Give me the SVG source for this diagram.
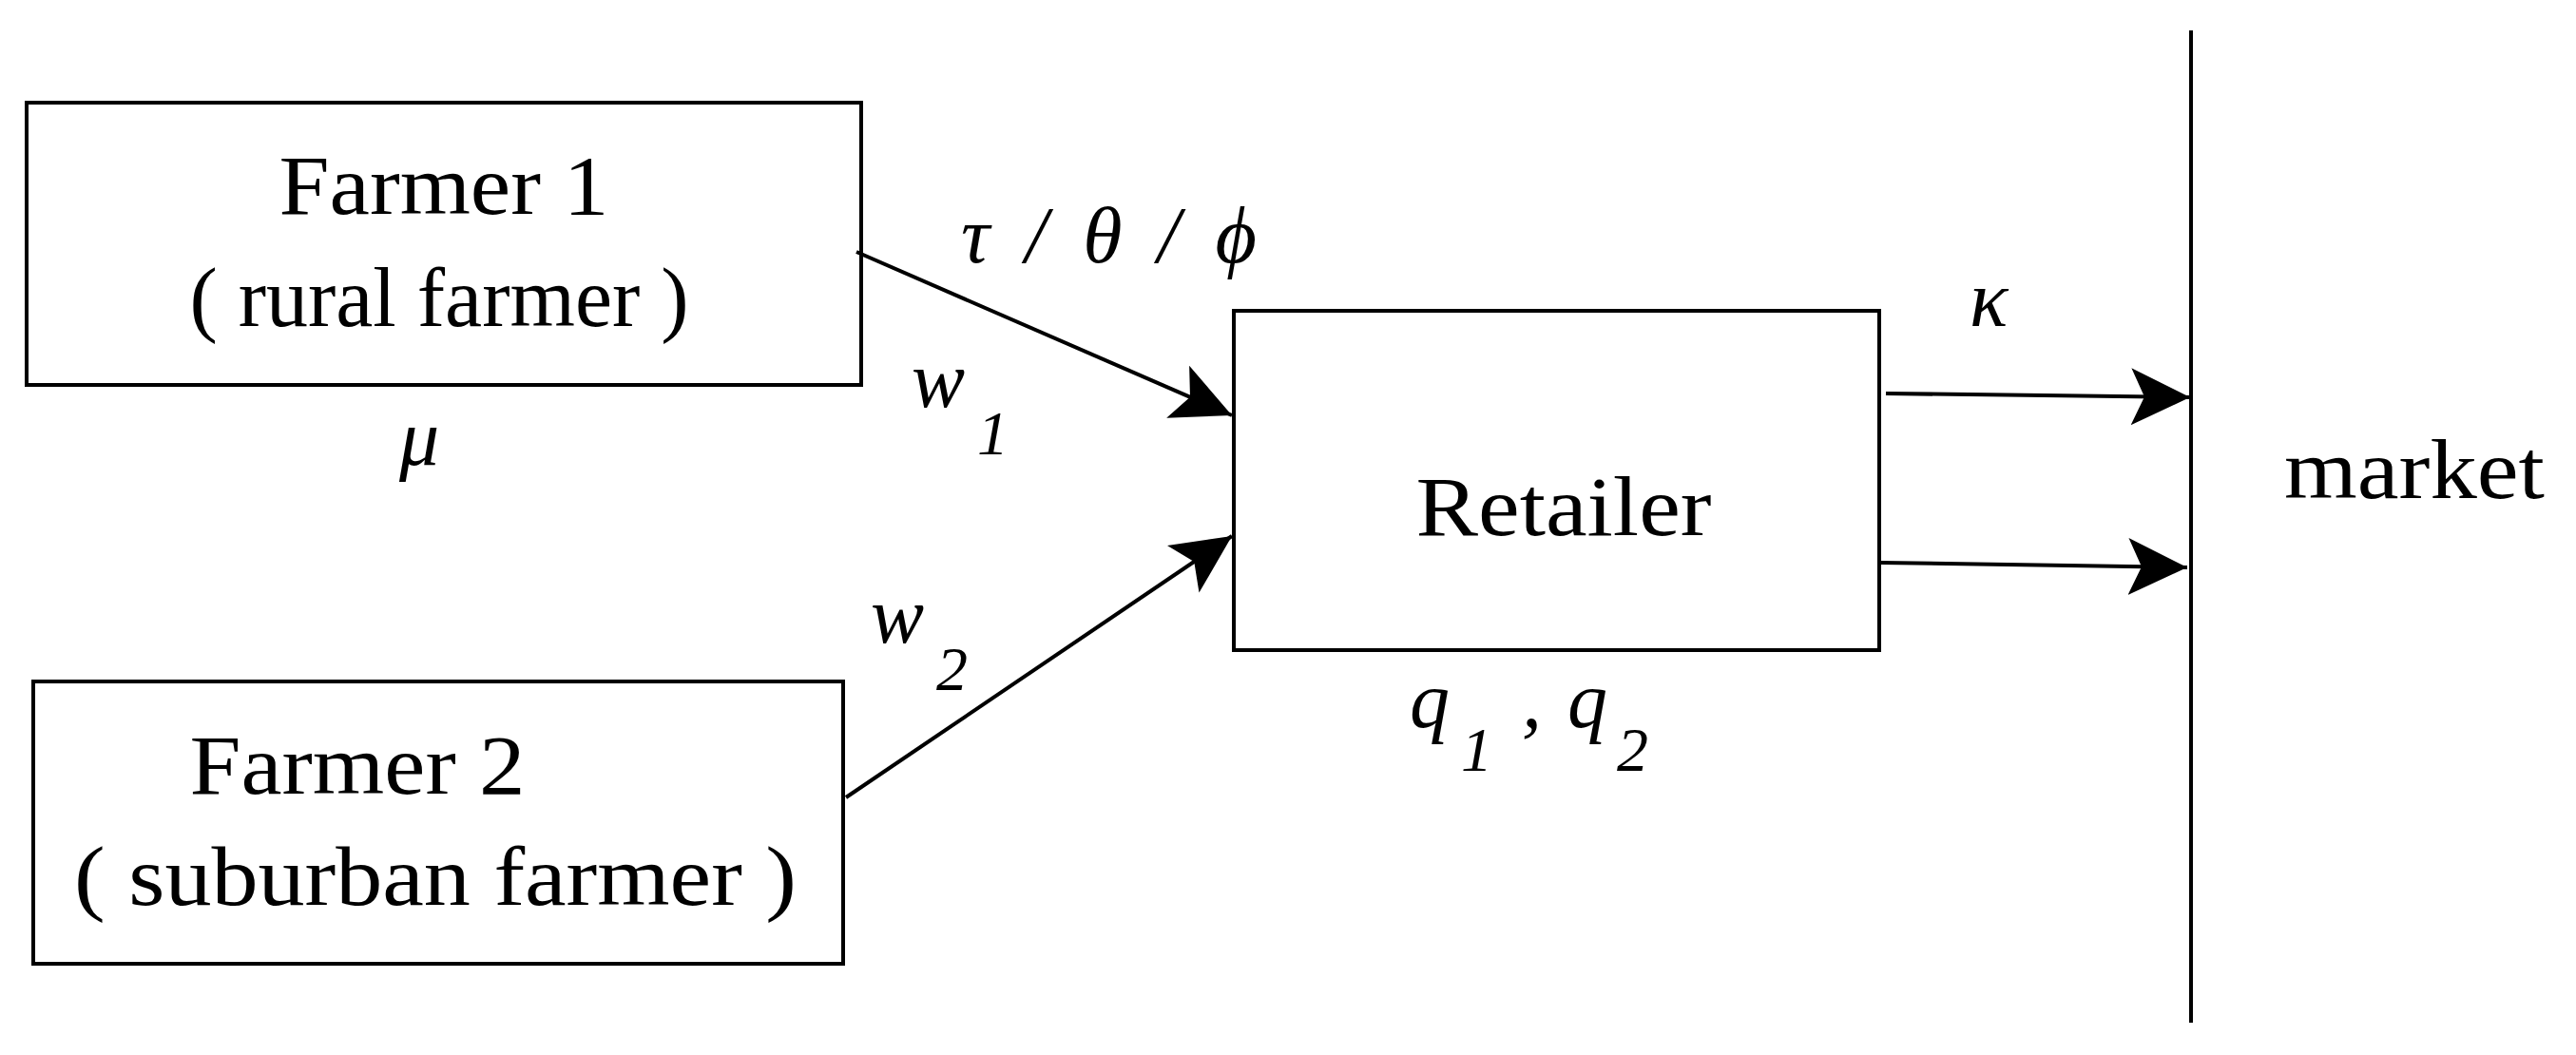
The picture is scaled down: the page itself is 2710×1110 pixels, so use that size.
<svg xmlns="http://www.w3.org/2000/svg" width="2710" height="1110" viewBox="0 0 2710 1110">
<style>
.box{fill:#fff;stroke:#000;stroke-width:4}
.t{font-family:"Liberation Serif",serif;font-size:88px;fill:#000}
.i{font-family:"Liberation Serif",serif;font-style:italic;font-size:84px;fill:#000}
.s{font-family:"Liberation Serif",serif;font-style:italic;font-size:66px;fill:#000}
.c{fill:none;stroke:#000;stroke-width:4}
</style>
<defs>
<marker id="ah" markerUnits="userSpaceOnUse" markerWidth="80" markerHeight="70" refX="62" refY="30" orient="auto">
<path d="M0,0 L62,30 L0,60 L14,30 Z" fill="#000"/>
</marker>
</defs>
<rect width="2710" height="1110" fill="#fff"/>
<g id="farmer1">
<rect class="box" x="28" y="108" width="878" height="297"/>
<text class="t" x="467" y="225" text-anchor="middle" textLength="347" lengthAdjust="spacingAndGlyphs">Farmer 1</text>
<text class="t" x="462" y="343" text-anchor="middle">( rural farmer )</text>
<text class="i" x="441" y="489" text-anchor="middle">μ</text>
</g>
<g id="farmer2">
<rect class="box" x="35" y="717" width="852" height="297"/>
<text class="t" x="376" y="835" text-anchor="middle" textLength="353" lengthAdjust="spacingAndGlyphs">Farmer 2</text>
<text class="t" x="458" y="952" text-anchor="middle" textLength="760" lengthAdjust="spacingAndGlyphs">( suburban farmer )</text>
</g>
<g id="retailer">
<rect class="box" x="1298" y="327" width="679" height="357"/>
<text class="t" x="1645" y="563" text-anchor="middle" textLength="311" lengthAdjust="spacingAndGlyphs">Retailer</text>
<text class="i" x="1483" y="765">q</text>
<text class="s" x="1537" y="811">1</text>
<text class="i" x="1601" y="765">,</text>
<text class="i" x="1649" y="765">q</text>
<text class="s" x="1701" y="811">2</text>
</g>
<g id="market">
<line class="c" x1="2305" y1="32" x2="2305" y2="1076"/>
<text class="t" x="2540" y="524" text-anchor="middle" textLength="274" lengthAdjust="spacingAndGlyphs">market</text>
</g>
<g id="connectors">
<line class="c" x1="901" y1="265" x2="1296" y2="437" marker-end="url(#ah)"/>
<line class="c" x1="890" y1="839" x2="1296" y2="564" marker-end="url(#ah)"/>
<line class="c" x1="1984" y1="414" x2="2304" y2="418" marker-end="url(#ah)"/>
<line class="c" x1="1979" y1="592" x2="2301" y2="597" marker-end="url(#ah)"/>
<text class="i" x="1011" y="276" textLength="311" lengthAdjust="spacing">τ / θ / ϕ</text>
<text class="i" x="959" y="428">w</text>
<text class="s" x="1028" y="478">1</text>
<text class="i" x="916" y="676">w</text>
<text class="s" x="985" y="726">2</text>
<text class="i" x="2072" y="343">κ</text>
</g>
</svg>
